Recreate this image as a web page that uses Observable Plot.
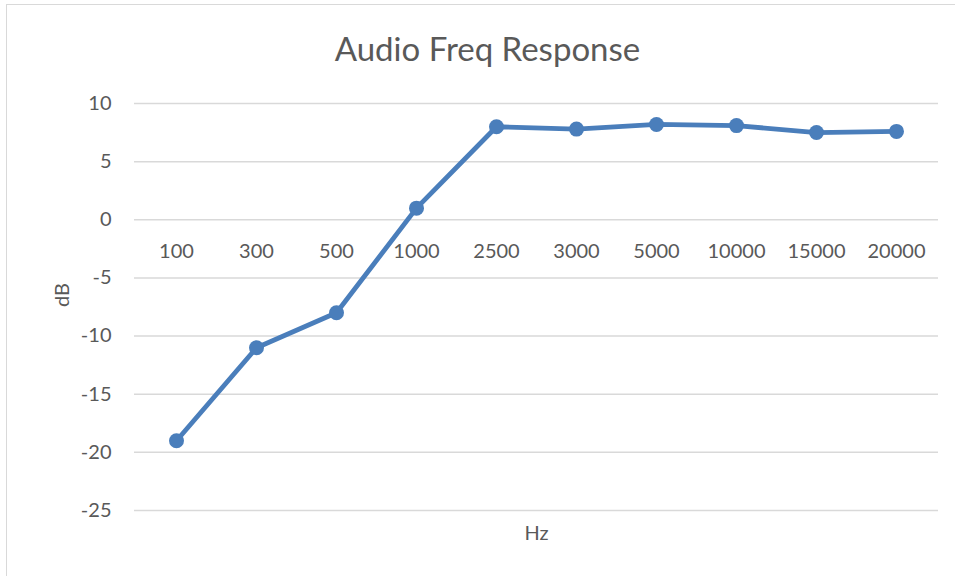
<!DOCTYPE html>
<html>
<head>
<meta charset="utf-8">
<script src="https://cdn.jsdelivr.net/npm/d3@7"></script>
<script src="https://cdn.jsdelivr.net/npm/@observablehq/plot@0.6"></script>
<style>
  html, body { margin: 0; padding: 0; background: #fff; overflow: hidden; }
  #wrap { position: relative; width: 955px; height: 576px; }
  #border { position: absolute; left: 6px; top: 4px; width: 1000px; height: 700px; border: 1px solid #d9d9d9; box-sizing: border-box; }
  #chart { position: absolute; left: 0; top: 0; }
</style>
</head>
<body>
<div id="wrap"><div id="border"></div><div id="chart"></div></div>
<script>
const frequencies = ["100", "300", "500", "1000", "2500", "3000", "5000", "10000", "15000", "20000"];
const decibels = [-19, -11, -8, 1, 8, 7.8, 8.2, 8.1, 7.5, 7.6];
const yTicks = [10, 5, 0, -5, -10, -15, -20, -25];
const titleText = "Audio Freq Response";
const xLabel = "Hz";
const yLabel = "dB";

const data = frequencies.map((f, i) => ({freq: f, db: decibels[i]}));
const font = "Lato, 'Open Sans', sans-serif";
const blue = "#4a7ebb";
const grey = "#595959";

const chart = Plot.plot({
  width: 955,
  height: 576,
  marginLeft: 134,
  marginRight: 17,
  marginTop: 103,
  marginBottom: 66,
  style: {fontFamily: font, background: "transparent"},
  x: {type: "band", domain: frequencies, padding: 0, axis: null},
  y: {domain: [-25, 10], axis: null},
  marks: [
    Plot.ruleY(yTicks, {stroke: "#d9d9d9", strokeWidth: 1.5}),
    Plot.axisY(yTicks, {tickSize: 0, tickPadding: 23, fontSize: 20, fill: grey, label: null, tickFormat: d => String(d)}),
    Plot.text(frequencies, {x: d => d, y: () => 0, dy: 32, fontSize: 20, fill: grey}),
    Plot.line(data, {x: "freq", y: "db", stroke: blue, strokeWidth: 4.8, strokeLinejoin: "round"}),
    Plot.dot(data, {x: "freq", y: "db", r: 7.5, fill: blue, stroke: "none"}),
    Plot.text([titleText], {frameAnchor: "top", dy: -53, dx: -49, lineAnchor: "middle", fontSize: 33, fill: grey}),
    Plot.text([xLabel], {frameAnchor: "bottom", dy: 23, lineAnchor: "middle", fontSize: 20, fill: grey}),
    Plot.text([yLabel], {frameAnchor: "left", dx: -72, rotate: -90, fontSize: 20, fill: grey})
  ]
});
document.getElementById("chart").appendChild(chart);
</script>
</body>
</html>
